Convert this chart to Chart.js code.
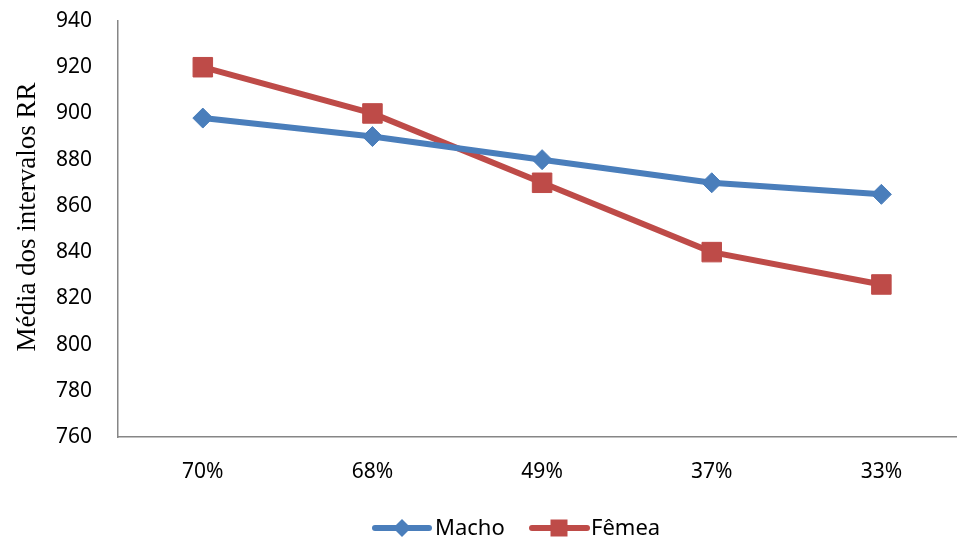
<!DOCTYPE html>
<html>
<head>
<meta charset="utf-8">
<script src="https://cdn.jsdelivr.net/npm/chart.js@4/dist/chart.umd.min.js"></script>
<style>
  html, body { margin: 0; padding: 0; background: #fff; overflow: hidden; }
  #wrap { width: 957px; height: 545px; overflow: hidden; }
  canvas { display: block; }
</style>
</head>
<body>
<div id="wrap"><canvas id="c" width="981" height="545"></canvas></div>
<script>
// Categories and series
const categories = ['70%', '68%', '49%', '37%', '33%'];
const macho = [898, 890, 880, 870, 865];
const femea = [920, 900, 870, 840, 826];
const seriesNames = ['Macho', 'Fêmea'];
const yTitle = 'Média dos intervalos RR';
const yMin = 760, yMax = 940, yStep = 20;

const BLUE = '#4A7EBB';
const RED = '#BE4B48';
const AXIS = '#868686';
const TICK_FONT = { family: '"Noto Sans", "Open Sans", sans-serif', size: 21 };

// Rotated y-axis title
const yTitlePlugin = {
  id: 'yTitle',
  afterDraw(chart) {
    const ctx = chart.ctx;
    ctx.save();
    ctx.translate(28, 217);
    ctx.rotate(-Math.PI / 2);
    ctx.font = '27px "Liberation Serif", "Times New Roman", serif';
    ctx.fillStyle = '#000';
    ctx.textAlign = 'center';
    ctx.textBaseline = 'middle';
    ctx.fillText(yTitle, 0, 0);
    ctx.restore();
  }
};

// Legend with line + marker samples
const lineLegendPlugin = {
  id: 'lineLegend',
  afterDraw(chart) {
    const ctx = chart.ctx;
    const items = [
      { x0: 375, x1: 429, mx: 402, tx: 435 },
      { x0: 532, x1: 587, mx: 559, tx: 591 }
    ];
    const y = 528;
    chart.data.datasets.forEach((ds, i) => {
      const it = items[i];
      ctx.save();
      ctx.strokeStyle = ds.borderColor;
      ctx.lineWidth = ds.borderWidth;
      ctx.lineCap = 'round';
      ctx.beginPath();
      ctx.moveTo(it.x0, y);
      ctx.lineTo(it.x1, y);
      ctx.stroke();
      ctx.fillStyle = ds.pointBackgroundColor;
      ctx.beginPath();
      if (ds.pointStyle === 'rectRot') {
        const r = 9;
        ctx.moveTo(it.mx - r, y);
        ctx.lineTo(it.mx, y - r);
        ctx.lineTo(it.mx + r, y);
        ctx.lineTo(it.mx, y + r);
        ctx.closePath();
      } else {
        const s = 8.5;
        ctx.rect(it.mx - s, y - s, 2 * s, 2 * s);
      }
      ctx.fill();
      ctx.font = '22px "Noto Sans", "Open Sans", sans-serif';
      ctx.fillStyle = '#000';
      ctx.textAlign = 'left';
      ctx.textBaseline = 'middle';
      ctx.fillText(ds.label, it.tx, y + 1);
      ctx.restore();
    });
  }
};

new Chart(document.getElementById('c'), {
  type: 'line',
  data: {
    labels: categories,
    datasets: [
      {
        label: seriesNames[0],
        data: macho,
        borderColor: BLUE,
        backgroundColor: BLUE,
        pointBackgroundColor: BLUE,
        pointBorderColor: BLUE,
        borderWidth: 6,
        pointStyle: 'rectRot',
        pointRadius: 10,
        pointHoverRadius: 10,
        pointBorderWidth: 1,
        tension: 0
      },
      {
        label: seriesNames[1],
        data: femea,
        borderColor: RED,
        backgroundColor: RED,
        pointBackgroundColor: RED,
        pointBorderColor: RED,
        borderWidth: 6,
        pointStyle: 'rect',
        pointRadius: 13.8,
        pointHoverRadius: 13.8,
        pointBorderWidth: 1,
        tension: 0
      }
    ]
  },
  options: {
    responsive: false,
    animation: false,
    devicePixelRatio: 1,
    layout: { padding: { top: 21, right: 0, bottom: 0, left: 0 } },
    plugins: {
      legend: { display: false },
      tooltip: { enabled: false }
    },
    scales: {
      x: {
        offset: true,
        grid: { display: false, drawTicks: false },
        border: { display: true, color: AXIS, width: 1.5 },
        ticks: { color: '#000', font: TICK_FONT, padding: 22, maxRotation: 0 },
        afterFit(scale) { scale.height = 108; }
      },
      y: {
        min: yMin,
        max: yMax,
        grid: { display: false, drawTicks: false },
        border: { display: true, color: AXIS, width: 1.5 },
        ticks: { stepSize: yStep, color: '#000', font: TICK_FONT, padding: 26 },
        afterFit(scale) { scale.width = 118; scale.paddingTop = 0; scale.paddingBottom = 0; }
      }
    }
  },
  plugins: [yTitlePlugin, lineLegendPlugin]
});
</script>
</body>
</html>
